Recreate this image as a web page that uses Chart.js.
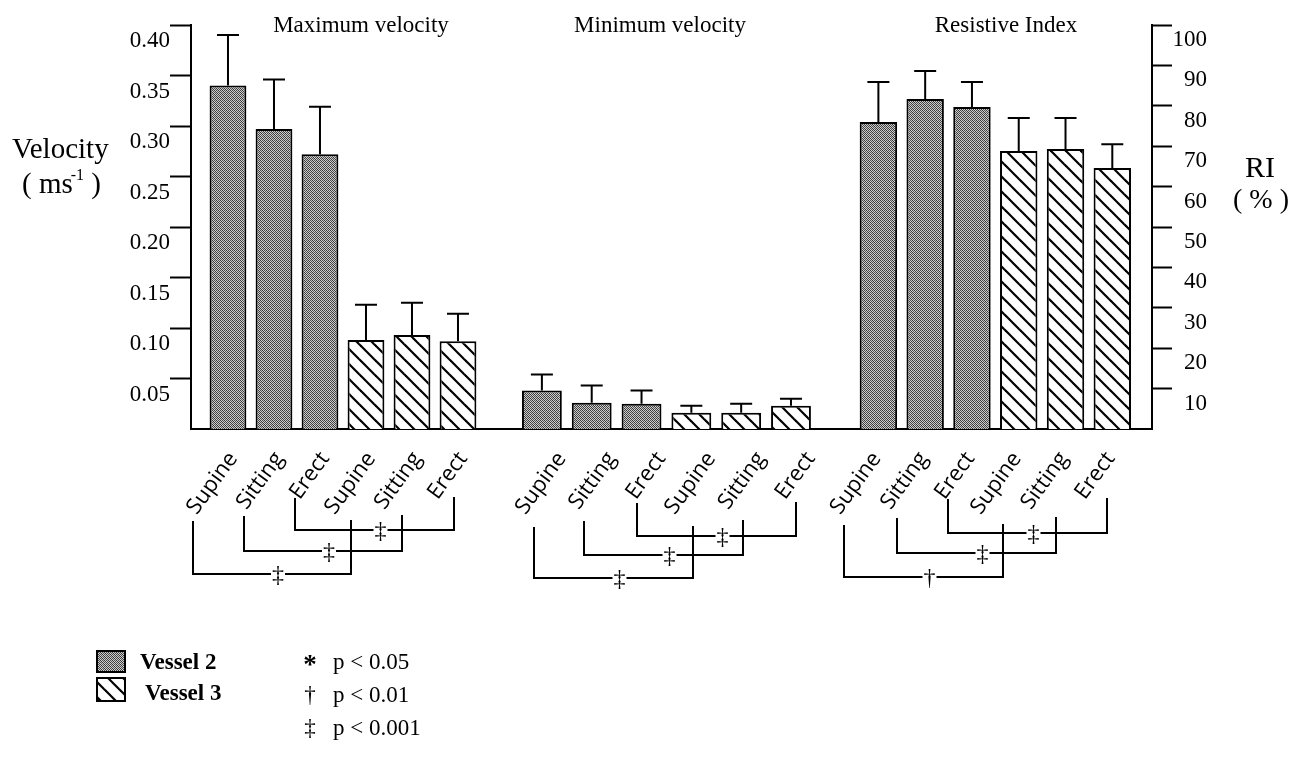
<!DOCTYPE html>
<html>
<head>
<meta charset="utf-8">
<script src="https://cdn.jsdelivr.net/npm/chart.js@4.4.1/dist/chart.umd.min.js"></script>
<style>
  html, body { margin: 0; padding: 0; background: #fff; }
  #wrap { position: relative; width: 1301px; height: 774px; }
</style>
</head>
<body>
<div id="wrap"><canvas id="dopplerChart"></canvas></div>
<script>
const positions = ["Supine", "Sitting", "Erect"];
const panelTitles = ["Maximum velocity", "Minimum velocity", "Resistive Index"];
const seriesNames = ["Vessel 2", "Vessel 3"];

// means (bar heights) and SD (error bar above the bar)
const maxVelV2 = [0.340, 0.297, 0.272];
const maxVelV2Sd = [0.050, 0.049, 0.047];
const maxVelV3 = [0.088, 0.093, 0.087];
const maxVelV3Sd = [0.035, 0.032, 0.027];

const minVelV2 = [0.038, 0.026, 0.025];
const minVelV2Sd = [0.016, 0.017, 0.013];
const minVelV3 = [0.016, 0.016, 0.023];
const minVelV3Sd = [0.007, 0.009, 0.007];

const riV2 = [76.0, 81.7, 79.7];
const riV2Sd = [9.9, 6.9, 6.2];
const riV3 = [68.8, 69.3, 64.6];
const riV3Sd = [8.2, 7.7, 5.9];

const velocityTicks = [0.05, 0.10, 0.15, 0.20, 0.25, 0.30, 0.35, 0.40];
const riTicks = [10, 20, 30, 40, 50, 60, 70, 80, 90, 100];

// significance symbols for Supine, Sitting, Erect (vessel 2 vs vessel 3)
const sigSymbols = [["‡", "‡", "‡"], ["‡", "‡", "‡"], ["†", "‡", "‡"]];
const pLegend = [["*", "p < 0.05"], ["†", "p < 0.01"], ["‡", "p < 0.001"]];

// ---- layout (not data) ----
const panelStart = [0, 6.824, 14.139];   // x of first bar in each panel
const panelStep = [1, 1.083, 1.017];     // bar spacing / width per panel
const labelShift = [-0.28, 0.04, -0.43]; // tick label nudge per panel
const xMin = -0.804, xMax = 20.087;
const chartBottom = 429;

// bracket legs: x per bar, leg tops and line heights per position
const legX = [[193, 244, 295, 351, 402, 454], [534, 584, 637, 693, 743, 796], [844, 897, 948, 1003, 1056, 1107]];
const legTop = [[521, 516, 498], [527, 521, 503], [525, 518, 499]];
const legLine = [[574, 551, 530], [578, 555, 536], [577, 553, 533]];
const titleX = [361, 660, 1006];

const serif = "'Liberation Serif', 'Times New Roman', serif";

function makeStipple() {
  const c = document.createElement("canvas");
  c.width = 4; c.height = 4;
  const g = c.getContext("2d");
  const img = g.createImageData(4, 4);
  const shades = [55, 205, 80, 190, 200, 50, 215, 75, 70, 195, 55, 210, 210, 85, 200, 60];
  shades.forEach((s, i) => {
    img.data[i * 4] = s; img.data[i * 4 + 1] = s; img.data[i * 4 + 2] = s; img.data[i * 4 + 3] = 255;
  });
  g.putImageData(img, 0, 0);
  return g.createPattern(c, "repeat");
}

function makeHatch() {
  const s = 15;
  const c = document.createElement("canvas");
  c.width = s; c.height = s;
  const g = c.getContext("2d");
  g.fillStyle = "#fff";
  g.fillRect(0, 0, s, s);
  g.strokeStyle = "#000";
  g.lineWidth = 2.2;
  for (let k = -1; k <= 1; k++) {
    g.beginPath();
    g.moveTo(k * s - 1, -1);
    g.lineTo(k * s + s + 1, s + 1);
    g.stroke();
  }
  return g.createPattern(c, "repeat");
}

const stipple = makeStipple();
const hatch = makeHatch();

function barPoints(panel, first, values) {
  return values.map((v, i) => ({ x: panelStart[panel] + (first + i) * panelStep[panel], y: v }));
}

function makeSet(label, panel, first, values, sd, axis) {
  return {
    label: label,
    data: barPoints(panel, first, values),
    sd: sd,
    yAxisID: axis,
    backgroundColor: first === 0 ? stipple : hatch,
    borderColor: "#000",
    borderWidth: 2,
    borderSkipped: "start",
    grouped: false,
    barPercentage: panelStep[panel],
  };
}

const datasets = [
  makeSet(seriesNames[0], 0, 0, maxVelV2, maxVelV2Sd, "y"),
  makeSet(seriesNames[1], 0, 3, maxVelV3, maxVelV3Sd, "y"),
  makeSet(seriesNames[0], 1, 0, minVelV2, minVelV2Sd, "y"),
  makeSet(seriesNames[1], 1, 3, minVelV3, minVelV3Sd, "y"),
  makeSet(seriesNames[0], 2, 0, riV2, riV2Sd, "y2"),
  makeSet(seriesNames[1], 2, 3, riV3, riV3Sd, "y2"),
];

// label ticks: one per bar, nudged per panel (spacing inside a panel unchanged)
const labelTicks = [];
for (let p = 0; p < 3; p++) {
  for (let i = 0; i < 6; i++) labelTicks.push(panelStart[p] + i * panelStep[p] + labelShift[p]);
}

const errorBars = {
  id: "errorBars",
  afterDatasetsDraw(chart) {
    const ctx = chart.ctx;
    ctx.save();
    ctx.strokeStyle = "#000";
    ctx.lineWidth = 2;
    chart.data.datasets.forEach((ds, di) => {
      const meta = chart.getDatasetMeta(di);
      const yScale = chart.scales[ds.yAxisID];
      meta.data.forEach((bar, i) => {
        const top = yScale.getPixelForValue(ds.data[i].y + ds.sd[i]);
        ctx.beginPath();
        ctx.moveTo(bar.x, bar.y);
        ctx.lineTo(bar.x, top);
        ctx.moveTo(bar.x - 11, top);
        ctx.lineTo(bar.x + 11, top);
        ctx.stroke();
      });
    });
    ctx.restore();
  },
};

const annotations = {
  id: "annotations",
  beforeDraw(chart) {
    const ctx = chart.ctx;
    ctx.save();
    ctx.fillStyle = "#fff";
    ctx.fillRect(0, 0, chart.width, chart.height);
    ctx.restore();
  },
  afterDraw(chart) {
    const ctx = chart.ctx;
    ctx.save();
    ctx.fillStyle = "#000";
    ctx.strokeStyle = "#000";

    // panel titles
    ctx.font = "23px " + serif;
    ctx.textAlign = "center";
    ctx.textBaseline = "alphabetic";
    panelTitles.forEach((t, i) => ctx.fillText(t, titleX[i], 32));

    // left axis title
    ctx.textAlign = "left";
    ctx.font = "29px " + serif;
    ctx.fillText("Velocity", 12, 158);
    ctx.fillText("( ms", 22, 193);
    const w = ctx.measureText("( ms").width;
    ctx.font = "16px " + serif;
    ctx.fillText("-1", 22 + w - 2, 180);
    const sw = ctx.measureText("-1").width;
    ctx.font = "29px " + serif;
    ctx.fillText(" )", 22 + w - 2 + sw, 193);

    // right axis title
    ctx.textAlign = "center";
    ctx.font = "30px " + serif;
    ctx.fillText("RI", 1260, 177);
    ctx.font = "28px " + serif;
    ctx.fillText("( % )", 1261, 208);

    // significance brackets
    ctx.lineWidth = 2;
    for (let p = 0; p < 3; p++) {
      for (let k = 0; k < 3; k++) {
        const xa = legX[p][k], xb = legX[p][k + 3];
        const ly = legLine[p][k], top = legTop[p][k];
        const sx = (xa + xb) / 2 + 6;
        ctx.beginPath();
        ctx.moveTo(xa, top); ctx.lineTo(xa, ly); ctx.lineTo(sx - 7, ly);
        ctx.moveTo(sx + 7, ly); ctx.lineTo(xb, ly); ctx.lineTo(xb, top - 1);
        ctx.stroke();
        ctx.font = "24px " + serif;
        ctx.textAlign = "center";
        ctx.textBaseline = "middle";
        ctx.fillText(sigSymbols[p][k], sx, ly + 2);
      }
    }

    // legend
    ctx.textBaseline = "alphabetic";
    ctx.lineWidth = 2;
    ctx.fillStyle = stipple;
    ctx.fillRect(97, 651, 28, 21);
    ctx.strokeRect(97, 651, 28, 21);
    ctx.fillStyle = hatch;
    ctx.fillRect(97, 678, 28, 23);
    ctx.strokeRect(97, 678, 28, 23);
    ctx.fillStyle = "#000";
    ctx.textAlign = "left";
    ctx.font = "bold 23px " + serif;
    ctx.fillText(seriesNames[0], 140, 669);
    ctx.fillText(seriesNames[1], 145, 700);

    pLegend.forEach((row, i) => {
      const base = 669 + i * 33;
      ctx.textAlign = "center";
      if (row[0] === "*") {
        ctx.font = "bold 27px " + serif;
        ctx.fillText(row[0], 310, base + 4);
      } else {
        ctx.font = "23px " + serif;
        ctx.fillText(row[0], 310, base);
      }
      ctx.font = "23px " + serif;
      ctx.textAlign = "left";
      ctx.fillText(row[1], 333, base);
    });
    ctx.restore();
  },
};

const config = {
  type: "bar",
  data: { datasets: datasets },
  options: {
    responsive: true,
    maintainAspectRatio: false,
    animation: false,
    layout: { padding: { top: 25, left: 0, right: 94, bottom: 0 } },
    plugins: {
      legend: { display: false },
      tooltip: { enabled: false },
      title: { display: false },
    },
    scales: {
      x: {
        type: "linear",
        position: "bottom",
        min: xMin,
        max: xMax,
        offset: false,
        afterBuildTicks: (s) => { s.ticks = labelTicks.map((v) => ({ value: v })); },
        afterFit: (s) => { s.height = 774 - chartBottom; },
        border: { display: true, color: "#000", width: 2 },
        grid: { display: false, drawTicks: false },
        ticks: {
          autoSkip: false,
          minRotation: 54,
          maxRotation: 54,
          padding: 18,
          labelOffset: 18,
          color: "#000",
          font: { family: "Open Sans", size: 22 },
          callback: (v, i) => positions[i % 3],
        },
      },
      y: {
        position: "left",
        min: 0,
        max: 0.4,
        afterBuildTicks: (s) => { s.ticks = velocityTicks.map((v) => ({ value: v })); },
        afterFit: (s) => { s.width = 191; },
        border: { display: true, color: "#000", width: 2 },
        grid: { drawOnChartArea: false, drawTicks: true, tickLength: 21, color: "#000", tickColor: "#000", tickWidth: 2 },
        ticks: {
          padding: 0,
          labelOffset: 16,
          color: "#000",
          font: { family: "Liberation Serif", size: 23 },
          callback: (v) => v.toFixed(2),
        },
      },
      y2: {
        position: "right",
        min: 0,
        max: 100,
        afterBuildTicks: (s) => { s.ticks = riTicks.map((v) => ({ value: v })); },
        afterFit: (s) => { s.width = 1207 - 1152; },
        border: { display: true, color: "#000", width: 2 },
        grid: { drawOnChartArea: false, drawTicks: true, tickLength: 20, color: "#000", tickColor: "#000", tickWidth: 2 },
        ticks: {
          padding: 1,
          crossAlign: "far",
          labelOffset: 15,
          color: "#000",
          font: { family: "Liberation Serif", size: 23 },
          callback: (v) => String(v),
        },
      },
    },
  },
  plugins: [errorBars, annotations],
};

new Chart(document.getElementById("dopplerChart"), config);
</script>
</body>
</html>
